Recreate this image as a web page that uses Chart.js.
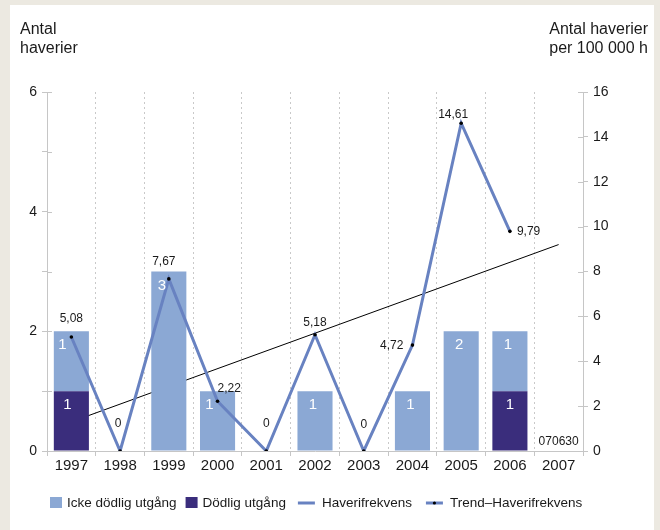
<!DOCTYPE html>
<html>
<head>
<meta charset="utf-8">
<title>Haverier 1997–2007</title>
<script src="https://cdn.jsdelivr.net/npm/chart.js@4.4.1/dist/chart.umd.min.js"></script>
<style>
  html, body { margin: 0; padding: 0; background: #ece9e1; }
  #panel { position: absolute; left: 10px; top: 5px; width: 644px; height: 525px; background: #ffffff; }
  #wrap { position: absolute; left: 0; top: 0; width: 660px; height: 530px; }
</style>
</head>
<body>
<div id="panel"></div>
<div id="wrap"><canvas id="chart" width="660" height="530"></canvas></div>
<script>
// Years on the category axis
const years = ['1997', '1998', '1999', '2000', '2001', '2002', '2003', '2004', '2005', '2006', '2007'];

// Number of accidents per year (left axis), stacked
const fatalAccidents    = [1, 0, 0, 0, 0, 0, 0, 0, 0, 1, 0];
const nonFatalAccidents = [1, 0, 3, 1, 0, 1, 0, 1, 2, 1, 0];

// Accident rate per 100 000 flight hours (right axis)
const accidentRate = [5.08, 0, 7.67, 2.22, 0, 5.18, 0, 4.72, 14.61, 9.79, null];

// Trend of the accident rate: start and end values, straight line between
const rateTrend = [1.3, null, null, null, null, null, null, null, null, null, 9.2];

// Axis ranges and tick steps
const leftAxisMax = 6,  leftAxisStep = 1,  leftLabelEvery = 2;
const rightAxisMax = 16, rightAxisStep = 2;

// Titles and stamp text
const leftTitle  = ['Antal', 'haverier'];
const rightTitle = ['Antal haverier', 'per 100 000 h'];
const stampText  = '070630';

// Placement of the rate labels around each point (style only)
const rateLabelPlacement = [
  { dx: 0,  dy: -18, align: 'center' },
  { dx: -2, dy: -27, align: 'center' },
  { dx: -5, dy: -17, align: 'center' },
  { dx: 0,  dy: -13, align: 'left' },
  { dx: 0,  dy: -27, align: 'center' },
  { dx: 0,  dy: -12, align: 'center' },
  { dx: 0,  dy: -26, align: 'center' },
  { dx: -9, dy: 1,   align: 'right' },
  { dx: -8, dy: -9,  align: 'center' },
  { dx: 7,  dy: 0,   align: 'left' },
  null
];

// Horizontal nudges for the counts inside the bars, keeping them clear of the rate line
const fatalLabelShift    = [-4, 0, 0, 0, 0, 0, 0, 0, 0, 0, 0];
const nonFatalLabelShift = [-9, 0, -7, -8, 0, -2, 0, -2, -2, -2, 0];

const FONT = '"Liberation Sans", Arial, Helvetica, sans-serif';
const TEXT = '#1a1a1a';
const AXIS_GRAY = '#c6c6c6';
const LIGHT_BAR = '#8ba8d4';
const DARK_BAR = '#3a2d7c';
const RATE_LINE = '#6882c1';

Chart.defaults.font.family = FONT;
Chart.defaults.color = TEXT;

const fmt = v => String(v).replace('.', ',');

// Horizontal axis titles above the two value axes
const axisTitles = {
  id: 'axisTitles',
  afterDraw(chart) {
    const ctx = chart.ctx;
    ctx.save();
    ctx.font = '16px ' + FONT;
    ctx.fillStyle = TEXT;
    ctx.textBaseline = 'alphabetic';
    ctx.textAlign = 'left';
    leftTitle.forEach((t, i) => ctx.fillText(t, 20, 34 + i * 19));
    ctx.textAlign = 'right';
    rightTitle.forEach((t, i) => ctx.fillText(t, 648, 34 + i * 19));
    ctx.restore();
  }
};

// Short ticks reaching into the plot from both value axes
const innerTicks = {
  id: 'innerTicks',
  afterDraw(chart) {
    const ctx = chart.ctx;
    const area = chart.chartArea;
    ctx.save();
    ctx.strokeStyle = AXIS_GRAY;
    ctx.lineWidth = 1;
    ['y', 'y1'].forEach(id => {
      const s = chart.scales[id];
      const x = id === 'y' ? area.left : area.right;
      const dir = id === 'y' ? 1 : -1;
      s.ticks.forEach(t => {
        const py = Math.round(s.getPixelForValue(t.value)) + 0.5;
        ctx.beginPath();
        ctx.moveTo(x, py);
        ctx.lineTo(x + dir * 5, py);
        ctx.stroke();
      });
    });
    ctx.restore();
  }
};

// Counts written inside the bar segments, rate values beside the points
const valueLabels = {
  id: 'valueLabels',
  afterDatasetsDraw(chart) {
    const ctx = chart.ctx;
    ctx.save();
    ctx.textBaseline = 'middle';
    ctx.textAlign = 'center';
    ctx.font = '15px ' + FONT;
    ctx.fillStyle = '#ffffff';
    const shifts = [fatalLabelShift, nonFatalLabelShift];
    [0, 1].forEach(di => {
      const meta = chart.getDatasetMeta(di);
      const data = chart.data.datasets[di].data;
      meta.data.forEach((el, i) => {
        if (!data[i]) return;
        const top = Math.min(el.y, el.base);
        ctx.fillText(String(data[i]), el.x + shifts[di][i], top + 14);
      });
    });

    ctx.font = '12px ' + FONT;
    ctx.fillStyle = TEXT;
    const lineMeta = chart.getDatasetMeta(2);
    lineMeta.data.forEach((pt, i) => {
      const v = accidentRate[i];
      const p = rateLabelPlacement[i];
      if (v === null || !p) return;
      ctx.textAlign = p.align;
      ctx.fillText(fmt(v), pt.x + p.dx, pt.y + p.dy);
    });

    // stamp in the last category, just above the baseline
    const xs = chart.scales.x;
    ctx.textAlign = 'center';
    ctx.fillText(stampText, xs.getPixelForValue(years.length - 1), chart.chartArea.bottom - 9);
    ctx.restore();
  }
};

// Legend row along the bottom
const legendRow = {
  id: 'legendRow',
  afterDraw(chart) {
    const ctx = chart.ctx;
    const items = [
      { ds: 1, kind: 'box' },
      { ds: 0, kind: 'box' },
      { ds: 2, kind: 'line' },
      { ds: 3, kind: 'lineDot' }
    ];
    const y = 503;
    let x = 50;
    ctx.save();
    ctx.font = '13.5px ' + FONT;
    ctx.textBaseline = 'middle';
    ctx.textAlign = 'left';
    items.forEach((it, i) => {
      const ds = chart.data.datasets[it.ds];
      if (i > 0) x += it.kind === 'box' ? 9 : (it.kind === 'line' ? 12 : 14);
      if (it.kind === 'box') {
        ctx.fillStyle = ds.backgroundColor;
        ctx.fillRect(x, y - 6, 12, 11);
        x += 17;
      } else {
        ctx.strokeStyle = RATE_LINE;
        ctx.lineWidth = 3;
        ctx.beginPath();
        ctx.moveTo(x, y);
        ctx.lineTo(x + 17, y);
        ctx.stroke();
        if (it.kind === 'lineDot') {
          ctx.fillStyle = '#000';
          ctx.beginPath();
          ctx.arc(x + 8.5, y, 1.6, 0, Math.PI * 2);
          ctx.fill();
        }
        x += 24;
      }
      ctx.fillStyle = TEXT;
      ctx.fillText(ds.label, x, y);
      x += ctx.measureText(ds.label).width;
    });
    ctx.restore();
  }
};

new Chart(document.getElementById('chart'), {
  data: {
    labels: years,
    datasets: [
      {
        type: 'bar', label: 'Dödlig utgång', data: fatalAccidents,
        backgroundColor: DARK_BAR, yAxisID: 'y', stack: 'haverier', order: 1,
        barPercentage: 0.72, categoryPercentage: 1
      },
      {
        type: 'bar', label: 'Icke dödlig utgång', data: nonFatalAccidents,
        backgroundColor: LIGHT_BAR, yAxisID: 'y', stack: 'haverier', order: 1,
        barPercentage: 0.72, categoryPercentage: 1
      },
      {
        type: 'line', label: 'Haverifrekvens', data: accidentRate,
        borderColor: RATE_LINE, borderWidth: 3, tension: 0, yAxisID: 'y1', order: 0,
        pointRadius: 1.8, pointBorderWidth: 0, pointBackgroundColor: '#000', spanGaps: false
      },
      {
        type: 'line', label: 'Trend–Haverifrekvens', data: rateTrend,
        borderColor: '#000', borderWidth: 1, tension: 0, yAxisID: 'y1', order: 2,
        pointRadius: 0, spanGaps: true
      }
    ]
  },
  options: {
    responsive: false,
    animation: false,
    devicePixelRatio: 1,
    layout: { padding: { top: 92, left: 0, right: 0, bottom: 0 } },
    plugins: {
      legend: { display: false },
      tooltip: { enabled: false }
    },
    scales: {
      x: {
        type: 'category',
        offset: true,
        stacked: true,
        grid: {
          offset: true, color: '#c9c9c9', lineWidth: 1,
          drawTicks: true, tickLength: 5, tickColor: AXIS_GRAY, tickBorderDash: []
        },
        border: { display: true, color: AXIS_GRAY, dash: [2, 3] },
        ticks: { font: { size: 15 }, color: TEXT, padding: 1, maxRotation: 0, autoSkip: false },
        afterFit(s) { s.height = 79; }
      },
      y: {
        position: 'left',
        stacked: true,
        min: 0, max: leftAxisMax,
        grid: { drawOnChartArea: false, drawTicks: true, tickLength: 5, tickColor: AXIS_GRAY },
        border: { display: true, color: AXIS_GRAY },
        ticks: {
          stepSize: leftAxisStep, padding: 5, font: { size: 14 }, color: TEXT,
          callback: v => (v % leftLabelEvery === 0 ? String(v) : '')
        },
        afterFit(s) { s.width = 47; }
      },
      y1: {
        position: 'right',
        min: 0, max: rightAxisMax,
        grid: { drawOnChartArea: false, drawTicks: true, tickLength: 5, tickColor: AXIS_GRAY },
        border: { display: true, color: AXIS_GRAY },
        ticks: { stepSize: rightAxisStep, padding: 5, font: { size: 14 }, color: TEXT },
        afterFit(s) { s.width = 77; }
      }
    }
  },
  plugins: [axisTitles, innerTicks, valueLabels, legendRow]
});
</script>
</body>
</html>
